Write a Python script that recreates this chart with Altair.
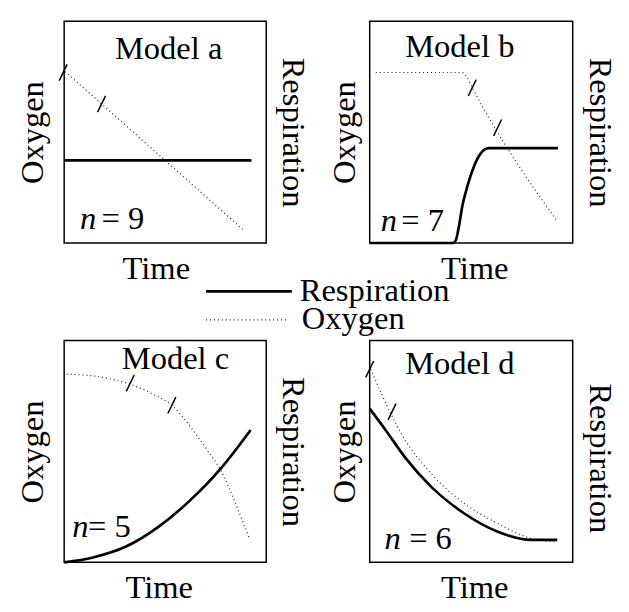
import altair as alt
import pandas as pd

FONT = "Liberation Serif"
FS = 33

# ---- data (x = time, y = level, both on 0..1 of each panel) ----
A_RESP_X = [0.0, 0.927]
A_RESP_Y = [0.373, 0.373]
A_OXY_X = [0.005, 0.883]
A_OXY_Y = [0.773, 0.062]
A_TICK_X = [-0.005, 0.185]
A_TICK_Y = [0.769, 0.627]

B_RESP_X = [0.0, 0.41, 0.425, 0.44, 0.456, 0.481, 0.513, 0.546, 0.586, 0.927]
B_RESP_Y = [0.0, 0.0, 0.015, 0.077, 0.166, 0.255, 0.344, 0.403, 0.428, 0.428]
B_OXY_X = [0.03, 0.455, 0.48, 0.512, 0.925]
B_OXY_Y = [0.769, 0.769, 0.745, 0.689, 0.096]
B_TICK_X = [0.505, 0.63]
B_TICK_Y = [0.70, 0.52]

C_RESP_X = [0.0, 0.143, 0.306, 0.468, 0.631, 0.777, 0.923]
C_RESP_Y = [0.0, 0.022, 0.071, 0.161, 0.286, 0.425, 0.597]
C_OXY_X = [0.013, 0.192, 0.322, 0.436, 0.533, 0.631, 0.712, 0.777, 0.842, 0.916]
C_OXY_Y = [0.849, 0.834, 0.804, 0.76, 0.708, 0.604, 0.501, 0.412, 0.279, 0.108]
C_TICK_X = [0.327, 0.533]
C_TICK_Y = [0.808, 0.708]

D_RESP_X = [0.0, 0.078, 0.176, 0.306, 0.468, 0.631, 0.794, 0.924]
D_RESP_Y = [0.693, 0.597, 0.471, 0.338, 0.219, 0.138, 0.101, 0.101]
D_OXY_X = [0.005, 0.062, 0.159, 0.306, 0.468, 0.631, 0.794, 0.916]
D_OXY_Y = [0.871, 0.752, 0.575, 0.397, 0.264, 0.175, 0.108, 0.093]
D_TICK_X = [0.0, 0.11]
D_TICK_Y = [0.871, 0.679]

TITLES = ["Model a", "Model b", "Model c", "Model d"]
N_VALUES = ["9", "7", "5", "6"]
SERIES = ["Respiration", "Oxygen"]

RESP_STYLE = dict(color="black", strokeWidth=2.7)
OXY_STYLE = dict(color="#222222", strokeWidth=1.2, strokeDash=[1, 3])


def legend_layers():
    leg_df = pd.DataFrame({"s": SERIES})
    r = alt.datum.s == SERIES[0]
    o = alt.datum.s == SERIES[1]
    return [
        alt.Chart(leg_df).transform_filter(r).mark_rule(**RESP_STYLE)
        .encode(x=alt.value(144), x2=alt.value(231), y=alt.value(274)),
        alt.Chart(leg_df).transform_filter(o).mark_rule(**OXY_STYLE)
        .encode(x=alt.value(144), x2=alt.value(226), y=alt.value(303)),
        alt.Chart(leg_df).transform_filter(r).mark_text(
            font=FONT, fontSize=FS, color="black", align="left", baseline="alphabetic")
        .encode(x=alt.value(239), y=alt.value(284), text="s:N"),
        alt.Chart(leg_df).transform_filter(o).mark_text(
            font=FONT, fontSize=FS, color="black", align="left", baseline="alphabetic")
        .encode(x=alt.value(241), y=alt.value(312), text="s:N"),
    ]


def panel(resp_x, resp_y, oxy_x, oxy_y, tick_x, tick_y, title, tpos, nval, npos, ndx,
          width, time_x, oxy_pad, resp_title_y=None, extra=()):
    xs = alt.Scale(domain=[0, 1], nice=False, zero=False)
    ys = alt.Scale(domain=[0, 1], nice=False, zero=False)
    xax = alt.Axis(title="Time", titlePadding=10, titleX=time_x)
    X = alt.X("x:Q", scale=xs, axis=xax)

    resp_axis_kw = dict(orient="right", title="Respiration", titlePadding=10)
    if resp_title_y is not None:
        resp_axis_kw["titleY"] = resp_title_y

    resp = alt.Chart(pd.DataFrame({"x": resp_x, "y": resp_y})).mark_line(
        interpolate="monotone", **RESP_STYLE
    ).encode(x=X, y=alt.Y("y:Q", scale=ys, axis=alt.Axis(**resp_axis_kw)))

    oxy = alt.Chart(pd.DataFrame({"x": oxy_x, "y": oxy_y})).mark_line(
        interpolate="monotone", **OXY_STYLE
    ).encode(x=X, y=alt.Y("y:Q", scale=ys,
                          axis=alt.Axis(orient="left", title="Oxygen", titlePadding=oxy_pad)))

    ticks = alt.Chart(pd.DataFrame({"x": tick_x, "y": tick_y})).mark_point(
        shape="stroke", angle=116, size=340, color="black", strokeWidth=1.5, filled=False,
        opacity=1
    ).encode(x=X, y=alt.Y("y:Q", scale=ys, axis=None))

    ttl = alt.Chart(pd.DataFrame({"x": [tpos[0]], "y": [tpos[1]], "t": [title]})).mark_text(
        font=FONT, fontSize=FS, color="black", align="center", baseline="alphabetic"
    ).encode(x=X, y=alt.Y("y:Q", scale=ys, axis=None), text="t:N")

    n_it = alt.Chart(pd.DataFrame({"x": [npos[0]], "y": [npos[1]], "t": ["n"]})).mark_text(
        font=FONT, fontSize=FS, fontStyle="italic", color="black", align="left",
        baseline="alphabetic"
    ).encode(x=X, y=alt.Y("y:Q", scale=ys, axis=None), text="t:N")

    n_val = alt.Chart(pd.DataFrame({"x": [npos[0]], "y": [npos[1]], "t": ["= " + nval]})).mark_text(
        font=FONT, fontSize=FS, color="black", align="left", baseline="alphabetic", dx=ndx
    ).encode(x=X, y=alt.Y("y:Q", scale=ys, axis=None), text="t:N")

    return alt.layer(oxy, resp, ticks, ttl, n_it, n_val, *extra).resolve_axis(
        y="independent"
    ).properties(
        width=width, height=225,
        view=alt.ViewBackground(stroke="black", strokeWidth=1.5, fill="white"),
    )


pa = panel(A_RESP_X, A_RESP_Y, A_OXY_X, A_OXY_Y, A_TICK_X, A_TICK_Y, TITLES[0],
           (0.517, 0.831), N_VALUES[0], (0.078, 0.062), 22, 205, 93, 15,
           extra=legend_layers())
pb = panel(B_RESP_X, B_RESP_Y, B_OXY_X, B_OXY_Y, B_TICK_X, B_TICK_Y, TITLES[1],
           (0.444, 0.84), N_VALUES[1], (0.054, 0.053), 21, 206, 106, 8)
pc = panel(C_RESP_X, C_RESP_Y, C_OXY_X, C_OXY_Y, C_TICK_X, C_TICK_Y, TITLES[2],
           (0.551, 0.871), N_VALUES[2], (0.04, 0.116), 16, 205, 96, 15)
pd_ = panel(D_RESP_X, D_RESP_Y, D_OXY_X, D_OXY_Y, D_TICK_X, D_TICK_Y, TITLES[3],
            (0.444, 0.849), N_VALUES[3], (0.073, 0.062), 25, 206, 106, 8, resp_title_y=119)

chart = alt.concat(
    pa, pb, pc, pd_, columns=2, spacing={"row": 99, "column": 105}, bounds="flush"
).properties(
    padding={"left": 8, "top": 8, "right": 5, "bottom": 5},
    background="white",
).configure_axis(
    titleFont=FONT, titleFontSize=FS, titleFontWeight="normal", titleColor="black",
    labels=False, ticks=False, domain=False, grid=False,
).configure_view(stroke="black", strokeWidth=1.5)

chart.save("out.html", embed_options={"renderer": "svg", "actions": False})
